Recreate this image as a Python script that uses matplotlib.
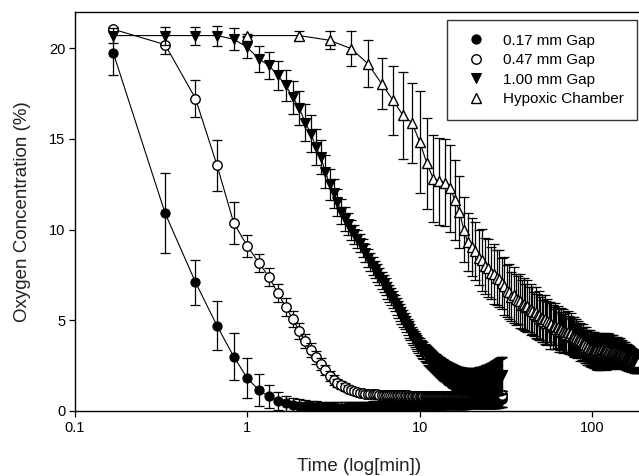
import numpy as np
import matplotlib
matplotlib.use("Agg")
import matplotlib.pyplot as plt
from matplotlib.lines import Line2D
from matplotlib.ticker import FixedLocator, FixedFormatter, NullLocator

plt.rcParams['font.family'] = ['Liberation Sans', 'DejaVu Sans']

# ---- time grids (minutes) ----
time_gap = np.arange(1, 181) / 6.0          # 10-s samples, 0.17 .. 30 min
time_chamber = np.arange(1, 186) * 1.0       # 1-min samples, 1 .. 185 min

# ---- 0.17 mm Gap ----
gap017 = [19.75, 10.9, 7.1, 4.7, 3.0, 1.8, 1.15, 0.8, 0.55, 0.42, 0.35, 0.3,
          0.27, 0.25, 0.23, 0.22, 0.21, 0.2, 0.2, 0.19, 0.19, 0.19, 0.2, 0.2,
          0.2, 0.21, 0.21, 0.22, 0.22, 0.23, 0.23, 0.24, 0.24, 0.25, 0.25, 0.26,
          0.26, 0.27, 0.27, 0.28, 0.28, 0.29, 0.29, 0.3, 0.3, 0.3, 0.31, 0.31,
          0.32, 0.32, 0.32, 0.33, 0.33, 0.33, 0.34, 0.34, 0.34, 0.35, 0.35, 0.35,
          0.36, 0.36, 0.36, 0.37, 0.37, 0.37, 0.38, 0.38, 0.38, 0.39, 0.39, 0.39,
          0.4, 0.4, 0.4, 0.4, 0.41, 0.41, 0.41, 0.41, 0.42, 0.42, 0.42, 0.42,
          0.43, 0.43, 0.43, 0.43, 0.44, 0.44, 0.44, 0.44, 0.45, 0.45, 0.45, 0.45,
          0.46, 0.46, 0.46, 0.46, 0.47, 0.47, 0.47, 0.47, 0.48, 0.48, 0.48, 0.48,
          0.49, 0.49, 0.49, 0.49, 0.5, 0.5, 0.5, 0.5, 0.5, 0.51, 0.51, 0.51,
          0.51, 0.52, 0.52, 0.52, 0.52, 0.53, 0.53, 0.53, 0.53, 0.54, 0.54, 0.54,
          0.54, 0.55, 0.55, 0.55, 0.55, 0.56, 0.56, 0.56, 0.56, 0.57, 0.57, 0.57,
          0.57, 0.58, 0.58, 0.58, 0.58, 0.59, 0.59, 0.59, 0.59, 0.6, 0.6, 0.6,
          0.6, 0.6, 0.61, 0.61, 0.61, 0.61, 0.62, 0.62, 0.62, 0.62, 0.63, 0.63,
          0.63, 0.63, 0.64, 0.64, 0.64, 0.64, 0.65, 0.65, 0.65, 0.65, 0.66, 0.66]
gap017_err = [1.25, 2.2, 1.25, 1.36, 1.3, 1.1, 0.87, 0.62, 0.5, 0.42, 0.38, 0.35,
              0.33, 0.32, 0.31, 0.3, 0.3, 0.3, 0.29, 0.29, 0.29, 0.28, 0.28, 0.28,
              0.28, 0.28, 0.28, 0.28, 0.28, 0.28, 0.29, 0.29, 0.29, 0.29, 0.29, 0.29,
              0.29, 0.29, 0.3, 0.3, 0.3, 0.3, 0.3, 0.3, 0.3, 0.3, 0.3, 0.3,
              0.3, 0.3, 0.3, 0.31, 0.31, 0.31, 0.31, 0.31, 0.31, 0.31, 0.31, 0.31,
              0.31, 0.31, 0.32, 0.32, 0.32, 0.32, 0.32, 0.32, 0.32, 0.32, 0.32, 0.32,
              0.32, 0.33, 0.33, 0.33, 0.33, 0.33, 0.33, 0.33, 0.33, 0.33, 0.33, 0.33,
              0.33, 0.34, 0.34, 0.34, 0.34, 0.34, 0.34, 0.34, 0.34, 0.34, 0.34, 0.34,
              0.34, 0.35, 0.35, 0.35, 0.35, 0.35, 0.35, 0.35, 0.35, 0.35, 0.35, 0.35,
              0.35, 0.36, 0.36, 0.36, 0.36, 0.36, 0.36, 0.36, 0.36, 0.36, 0.36, 0.36,
              0.36, 0.37, 0.37, 0.37, 0.37, 0.37, 0.37, 0.37, 0.37, 0.37, 0.37, 0.37,
              0.38, 0.38, 0.38, 0.38, 0.38, 0.38, 0.39, 0.39, 0.39, 0.39, 0.39, 0.39,
              0.4, 0.4, 0.4, 0.4, 0.4, 0.4, 0.41, 0.41, 0.41, 0.41, 0.41, 0.41,
              0.42, 0.42, 0.42, 0.42, 0.42, 0.42, 0.43, 0.43, 0.43, 0.43, 0.43, 0.43,
              0.44, 0.44, 0.44, 0.44, 0.44, 0.44, 0.45, 0.45, 0.45, 0.45, 0.45, 0.45]

# ---- 0.47 mm Gap ----
gap047 = [21.05, 20.2, 17.23, 13.55, 10.37, 9.09, 8.17, 7.4, 6.5, 5.75, 5.07, 4.42,
          3.87, 3.36, 2.95, 2.58, 2.26, 1.95, 1.72, 1.55, 1.42, 1.32, 1.23, 1.15,
          1.08, 1.03, 1.0, 0.98, 0.96, 0.95, 0.94, 0.93, 0.92, 0.91, 0.9, 0.9,
          0.89, 0.89, 0.88, 0.88, 0.88, 0.87, 0.87, 0.87, 0.87, 0.86, 0.86, 0.86,
          0.86, 0.86, 0.86, 0.85, 0.85, 0.85, 0.85, 0.85, 0.85, 0.85, 0.85, 0.85,
          0.85, 0.85, 0.85, 0.85, 0.85, 0.85, 0.85, 0.85, 0.85, 0.85, 0.85, 0.85,
          0.85, 0.85, 0.85, 0.85, 0.85, 0.85, 0.85, 0.85, 0.85, 0.85, 0.85, 0.85,
          0.85, 0.85, 0.85, 0.85, 0.85, 0.85, 0.85, 0.85, 0.85, 0.85, 0.85, 0.85,
          0.85, 0.85, 0.85, 0.85, 0.85, 0.85, 0.85, 0.85, 0.85, 0.85, 0.85, 0.85,
          0.85, 0.85, 0.85, 0.85, 0.85, 0.85, 0.85, 0.85, 0.85, 0.85, 0.85, 0.85,
          0.85, 0.85, 0.85, 0.85, 0.85, 0.85, 0.85, 0.85, 0.85, 0.85, 0.85, 0.85,
          0.85, 0.85, 0.85, 0.85, 0.85, 0.85, 0.85, 0.85, 0.86, 0.86, 0.86, 0.86,
          0.86, 0.86, 0.86, 0.86, 0.86, 0.86, 0.86, 0.86, 0.86, 0.86, 0.86, 0.86,
          0.86, 0.86, 0.86, 0.86, 0.86, 0.86, 0.87, 0.87, 0.87, 0.87, 0.87, 0.87,
          0.87, 0.87, 0.88, 0.88, 0.88, 0.89, 0.89, 0.89, 0.9, 0.9, 0.9, 0.9]
gap047_err = [0.1, 0.52, 1.0, 1.4, 1.17, 0.6, 0.5, 0.5, 0.5, 0.5, 0.45, 0.45,
              0.4, 0.4, 0.35, 0.33, 0.3, 0.28, 0.26, 0.24, 0.22, 0.2, 0.2, 0.18,
              0.17, 0.17, 0.16, 0.16, 0.16, 0.15, 0.15, 0.15, 0.15, 0.15, 0.15, 0.15,
              0.15, 0.15, 0.15, 0.15, 0.15, 0.15, 0.15, 0.15, 0.15, 0.15, 0.15, 0.15,
              0.15, 0.15, 0.15, 0.15, 0.15, 0.15, 0.15, 0.15, 0.15, 0.15, 0.15, 0.15,
              0.15, 0.15, 0.15, 0.15, 0.15, 0.15, 0.15, 0.15, 0.15, 0.15, 0.15, 0.15,
              0.15, 0.15, 0.15, 0.15, 0.15, 0.15, 0.15, 0.15, 0.15, 0.15, 0.15, 0.15,
              0.15, 0.15, 0.15, 0.15, 0.15, 0.15, 0.15, 0.15, 0.15, 0.15, 0.15, 0.15,
              0.16, 0.16, 0.16, 0.16, 0.16, 0.16, 0.16, 0.16, 0.16, 0.16, 0.16, 0.16,
              0.16, 0.16, 0.16, 0.16, 0.16, 0.16, 0.16, 0.16, 0.16, 0.16, 0.16, 0.16,
              0.17, 0.17, 0.17, 0.17, 0.17, 0.17, 0.17, 0.17, 0.17, 0.17, 0.17, 0.17,
              0.17, 0.17, 0.17, 0.17, 0.17, 0.17, 0.18, 0.18, 0.18, 0.18, 0.18, 0.18,
              0.18, 0.18, 0.18, 0.18, 0.18, 0.18, 0.19, 0.19, 0.19, 0.19, 0.19, 0.19,
              0.19, 0.19, 0.19, 0.19, 0.19, 0.19, 0.2, 0.2, 0.2, 0.2, 0.2, 0.2,
              0.2, 0.2, 0.2, 0.2, 0.2, 0.2, 0.2, 0.2, 0.2, 0.2, 0.2, 0.2]

# ---- 1.00 mm Gap ----
gap100 = [20.7, 20.7, 20.7, 20.7, 20.5, 20.05, 19.4, 19.06, 18.5, 17.96, 17.3, 16.7,
          15.9, 15.3, 14.56, 14.0, 13.2, 12.5, 12.0, 11.5, 11.0, 10.6, 10.3, 10.0,
          9.75, 9.5, 9.25, 8.98, 8.72, 8.45, 8.23, 8.01, 7.8, 7.6, 7.4, 7.2,
          7.02, 6.84, 6.65, 6.48, 6.31, 6.15, 5.96, 5.78, 5.6, 5.43, 5.26, 5.1,
          4.95, 4.8, 4.65, 4.5, 4.35, 4.2, 4.08, 3.96, 3.85, 3.75, 3.65, 3.55,
          3.47, 3.39, 3.31, 3.24, 3.17, 3.1, 3.04, 2.98, 2.92, 2.86, 2.8, 2.75,
          2.7, 2.65, 2.6, 2.55, 2.5, 2.45, 2.41, 2.37, 2.33, 2.29, 2.25, 2.2,
          2.17, 2.14, 2.11, 2.08, 2.05, 2.02, 1.99, 1.96, 1.94, 1.91, 1.89, 1.86,
          1.84, 1.82, 1.8, 1.78, 1.76, 1.75, 1.73, 1.72, 1.71, 1.7, 1.69, 1.68,
          1.67, 1.66, 1.65, 1.65, 1.64, 1.63, 1.63, 1.62, 1.62, 1.61, 1.61, 1.6,
          1.6, 1.6, 1.6, 1.6, 1.6, 1.6, 1.6, 1.6, 1.6, 1.6, 1.6, 1.6,
          1.61, 1.61, 1.61, 1.62, 1.62, 1.62, 1.63, 1.63, 1.64, 1.64, 1.65, 1.65,
          1.66, 1.66, 1.67, 1.68, 1.68, 1.69, 1.7, 1.7, 1.71, 1.72, 1.72, 1.73,
          1.74, 1.75, 1.76, 1.77, 1.78, 1.79, 1.8, 1.81, 1.82, 1.83, 1.84, 1.85,
          1.86, 1.87, 1.88, 1.89, 1.9, 1.91, 1.92, 1.93, 1.94, 1.95, 1.96, 1.97]
gap100_err = [0.4, 0.5, 0.5, 0.55, 0.6, 0.6, 0.7, 0.75, 0.8, 0.85, 0.9, 0.95,
              1.0, 1.0, 1.0, 0.95, 0.9, 0.85, 0.8, 0.75, 0.7, 0.65, 0.6, 0.55,
              0.52, 0.5, 0.5, 0.5, 0.5, 0.5, 0.49, 0.49, 0.49, 0.48, 0.48, 0.48,
              0.47, 0.47, 0.47, 0.47, 0.46, 0.46, 0.46, 0.46, 0.46, 0.45, 0.45, 0.45,
              0.45, 0.45, 0.45, 0.45, 0.45, 0.45, 0.45, 0.45, 0.45, 0.45, 0.45, 0.45,
              0.46, 0.46, 0.47, 0.47, 0.48, 0.48, 0.49, 0.49, 0.5, 0.5, 0.51, 0.51,
              0.52, 0.52, 0.53, 0.53, 0.54, 0.54, 0.55, 0.55, 0.56, 0.56, 0.57, 0.57,
              0.58, 0.58, 0.59, 0.59, 0.6, 0.6, 0.61, 0.61, 0.62, 0.62, 0.63, 0.63,
              0.64, 0.64, 0.65, 0.65, 0.66, 0.66, 0.67, 0.67, 0.68, 0.68, 0.69, 0.69,
              0.7, 0.7, 0.7, 0.7, 0.71, 0.71, 0.71, 0.71, 0.72, 0.72, 0.72, 0.72,
              0.73, 0.73, 0.74, 0.74, 0.75, 0.75, 0.76, 0.76, 0.77, 0.77, 0.78, 0.78,
              0.79, 0.79, 0.8, 0.8, 0.81, 0.81, 0.82, 0.82, 0.83, 0.83, 0.84, 0.84,
              0.85, 0.85, 0.86, 0.86, 0.87, 0.87, 0.88, 0.88, 0.89, 0.89, 0.9, 0.9,
              0.91, 0.91, 0.92, 0.92, 0.93, 0.93, 0.94, 0.94, 0.95, 0.95, 0.96, 0.96,
              0.97, 0.97, 0.98, 0.98, 0.99, 0.99, 1.0, 1.0, 1.0, 1.0, 1.0, 1.0]

# ---- Hypoxic Chamber ----
chamber = [20.7, 20.7, 20.44, 19.98, 19.15, 18.05, 17.13, 16.3, 15.9, 14.84,
           13.65, 12.8, 12.67, 12.58, 12.27, 11.65, 10.98, 10.0, 9.3, 9.05,
           8.8, 8.46, 8.33, 8.0, 7.9, 7.62, 7.55, 7.35, 7.3, 7.05,
           6.9, 6.62, 6.58, 6.3, 6.4, 6.15, 6.12, 6.05, 5.86, 5.9,
           5.72, 5.8, 5.58, 5.6, 5.52, 5.35, 5.45, 5.22, 5.28, 5.1,
           5.12, 4.95, 5.05, 4.86, 4.95, 4.9, 4.72, 4.8, 4.62, 4.7,
           4.68, 4.5, 4.62, 4.48, 4.4, 4.52, 4.35, 4.42, 4.3, 4.38,
           4.25, 4.34, 4.2, 4.18, 4.28, 4.08, 4.15, 4.0, 4.1, 3.95,
           4.02, 3.86, 3.95, 3.92, 3.78, 3.86, 3.7, 3.78, 3.62, 3.7,
           3.55, 3.64, 3.5, 3.46, 3.55, 3.38, 3.46, 3.35, 3.42, 3.3,
           3.38, 3.28, 3.36, 3.34, 3.24, 3.38, 3.26, 3.33, 3.22, 3.36,
           3.28, 3.35, 3.25, 3.4, 3.3, 3.27, 3.38, 3.3, 3.36, 3.26,
           3.34, 3.28, 3.24, 3.36, 3.26, 3.32, 3.22, 3.3, 3.25, 3.2,
           3.32, 3.22, 3.28, 3.2, 3.18, 3.3, 3.2, 3.24, 3.16, 3.26,
           3.18, 3.22, 3.14, 3.2, 3.12, 3.22, 3.1, 3.15, 3.08, 3.14,
           3.06, 3.12, 3.04, 3.1, 3.0, 3.08, 3.02, 2.98, 3.06, 2.94,
           3.0, 2.92, 2.98, 2.88, 2.94, 2.86, 2.9, 2.82, 2.88, 2.8,
           2.84, 2.78, 2.82, 2.74, 2.8, 2.72, 2.78, 2.7, 2.76, 2.7,
           2.74, 2.68, 2.72, 2.7, 2.68]
chamber_err = [0.1, 0.25, 0.5, 0.95, 1.3, 1.4, 1.9, 2.4, 2.2, 2.8,
               2.5, 2.4, 2.4, 2.4, 2.4, 2.2, 2.0, 1.8, 1.6, 1.6,
               1.6, 1.5, 1.7, 1.55, 1.6, 1.45, 1.65, 1.5, 1.55, 1.4,
               1.6, 1.45, 1.5, 1.35, 1.55, 1.4, 1.3, 1.5, 1.35, 1.45,
               1.3, 1.45, 1.25, 1.4, 1.3, 1.2, 1.4, 1.25, 1.35, 1.2,
               1.3, 1.15, 1.35, 1.2, 1.25, 1.1, 1.3, 1.15, 1.2, 1.05,
               1.25, 1.1, 1.15, 1.2, 1.05, 1.15, 1.0, 1.2, 1.05, 1.1,
               1.0, 1.15, 1.05, 0.95, 1.1, 1.0, 1.05, 0.95, 1.1, 0.9,
               1.05, 0.95, 1.0, 0.9, 1.05, 0.95, 0.9, 1.0, 0.85, 0.95,
               0.9, 1.0, 0.85, 0.95, 0.9, 0.85, 1.0, 0.9, 0.95, 0.85,
               0.95, 0.9, 1.0, 0.85, 0.95, 0.9, 1.0, 0.88, 0.95, 0.9,
               1.0, 0.9, 0.95, 0.85, 1.0, 0.92, 0.88, 0.96, 0.9, 1.0,
               0.9, 0.95, 0.85, 0.92, 0.88, 0.95, 0.85, 0.9, 0.82, 0.9,
               0.85, 0.8, 0.9, 0.82, 0.86, 0.78, 0.85, 0.8, 0.76, 0.84,
               0.78, 0.82, 0.75, 0.8, 0.74, 0.78, 0.72, 0.76, 0.7, 0.75,
               0.72, 0.68, 0.74, 0.7, 0.66, 0.72, 0.68, 0.7, 0.64, 0.7,
               0.66, 0.7, 0.62, 0.68, 0.64, 0.66, 0.6, 0.65, 0.62, 0.6,
               0.64, 0.58, 0.62, 0.6, 0.56, 0.62, 0.58, 0.6, 0.55, 0.58,
               0.56, 0.6, 0.55, 0.58, 0.55]

labels = ["0.17 mm Gap", "0.47 mm Gap", "1.00 mm Gap", "Hypoxic Chamber"]
x_ticks = [0.1, 1, 10, 100]
x_ticklabels = ["0.1", "1", "10", "100"]
y_ticks = [0, 5, 10, 15, 20]

W, H = 639, 476
fig = plt.figure(figsize=(W / 100, H / 100), dpi=100)
ax = fig.add_axes([75 / W, 65 / H, 569 / W, 399 / H])

series = [
    (time_gap, gap017, gap017_err, dict(marker='o', mfc='black', mec='black', ms=6.6, mew=0.8)),
    (time_gap, gap047, gap047_err, dict(marker='o', mfc='white', mec='black', ms=6.8, mew=1.0)),
    (time_gap, gap100, gap100_err, dict(marker='v', mfc='black', mec='black', ms=7.2, mew=0.8)),
    (time_chamber, chamber, chamber_err, dict(marker='^', mfc='white', mec='black', ms=7.4, mew=1.0)),
]

CAP = 6.6  # total cap width in points
handles = []
for s_idx, (t, v, e, mk) in enumerate(series):
    base = 10 * (s_idx + 1)
    ax.plot(t, v, color='black', lw=0.8, zorder=base)
    for i, (ti, vi, ei) in enumerate(zip(t, v, e)):
        zb = base + 1 + i * 0.004
        ax.plot([ti, ti], [vi - ei, vi + ei], color='black', lw=0.9,
                marker='_', ms=CAP, mew=0.9, zorder=zb)
        ax.plot([ti], [vi], ls='none', zorder=zb + 0.002, **mk)
    handles.append(Line2D([], [], ls='none', color='black', **mk))

ax.set_xscale('log')
ax.set_xlim(0.1, 200)
ax.set_ylim(0, 22)
ax.xaxis.set_major_locator(FixedLocator(x_ticks))
ax.xaxis.set_major_formatter(FixedFormatter(x_ticklabels))
ax.xaxis.set_minor_locator(NullLocator())
ax.set_yticks(y_ticks)
ax.tick_params(direction='out', length=4, width=0.9, labelsize=10.5, colors='black', pad=3)
for sp in ax.spines.values():
    sp.set_linewidth(1.0)
    sp.set_zorder(100)

ax.set_xlabel("Time (log[min])", fontsize=13.5, labelpad=17, color='#222222')
ax.set_ylabel("Oxygen Concentration (%)", fontsize=13.5, labelpad=13, color='#222222')

leg = fig.legend(handles, labels, loc='upper left', bbox_to_anchor=(447 / W, 1 - 20 / H),
                 borderaxespad=0, fontsize=11, frameon=True, fancybox=False,
                 edgecolor='black', handlelength=2.0, handletextpad=0.75,
                 borderpad=0.9, labelspacing=0.36)
leg.get_frame().set_linewidth(1.0)

fig.savefig("out.png", dpi=100)
